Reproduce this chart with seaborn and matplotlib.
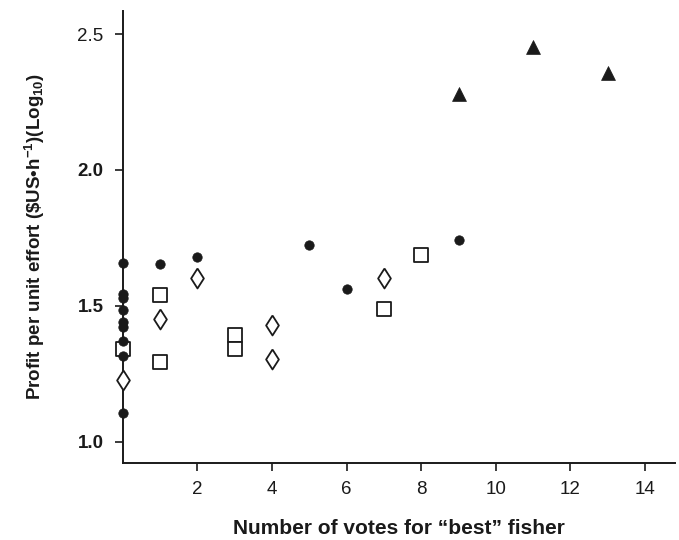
import matplotlib
matplotlib.use("Agg")
import matplotlib.pyplot as plt
import seaborn as sns
import pandas as pd

# ---- data ----
circle_x = [0, 0, 0, 0, 0, 0, 0, 0, 0, 1, 2, 5, 6, 9]
circle_y = [1.657, 1.545, 1.530, 1.485, 1.440, 1.420, 1.371, 1.314, 1.106,
            1.653, 1.679, 1.722, 1.562, 1.743]

square_x = [0, 1, 1, 3, 3, 7, 8]
square_y = [1.342, 1.538, 1.292, 1.391, 1.342, 1.489, 1.688]

diamond_x = [0, 1, 2, 4, 4, 7]
diamond_y = [1.228, 1.452, 1.602, 1.428, 1.304, 1.602]

triangle_x = [9, 11, 13]
triangle_y = [2.280, 2.453, 2.355]

x_ticks = [2, 4, 6, 8, 10, 12, 14]
y_ticks = [1.0, 1.5, 2.0, 2.5]
y_tick_labels = ["1.0", "1.5", "2.0", "2.5"]

sns.set_theme(style="white")
plt.rcParams["font.family"] = ["Liberation Sans", "DejaVu Sans"]
plt.rcParams["mathtext.fontset"] = "custom"
plt.rcParams["mathtext.rm"] = "Liberation Sans"
plt.rcParams["mathtext.bf"] = "Liberation Sans:bold"

fig = plt.figure(figsize=(6.79, 5.40), dpi=100)
ax = fig.add_axes([0.181, 0.1426, 0.813, 0.837])

ink = "#1a1a1a"
lw = 1.3

diamond_marker = [(0, 1), (0.64, 0), (0, -1), (-0.64, 0), (0, 1)]

df_c = pd.DataFrame({"x": circle_x, "y": circle_y})
df_s = pd.DataFrame({"x": square_x, "y": square_y})
df_d = pd.DataFrame({"x": diamond_x, "y": diamond_y})
df_t = pd.DataFrame({"x": triangle_x, "y": triangle_y})

sns.scatterplot(data=df_s, x="x", y="y", marker="s", s=100, facecolor="white",
                edgecolor=ink, linewidth=lw, ax=ax, zorder=3, clip_on=False)
sns.scatterplot(data=df_d, x="x", y="y", marker=diamond_marker, s=205,
                facecolor="white", edgecolor=ink, linewidth=lw, ax=ax,
                zorder=3, clip_on=False)
sns.scatterplot(data=df_c, x="x", y="y", marker="o", s=46, color=ink,
                edgecolor=ink, linewidth=0.5, ax=ax, zorder=4, clip_on=False)
sns.scatterplot(data=df_t, x="x", y="y", marker="^", s=100, color=ink,
                edgecolor=ink, linewidth=0.5, ax=ax, zorder=4, clip_on=False)

ax.set_xlim(0, 14.8)
ax.set_ylim(0.921, 2.585)

ax.set_xticks(x_ticks)
ax.set_xticklabels([str(t) for t in x_ticks])
ax.set_yticks(y_ticks)
ax.set_yticklabels(y_tick_labels)

for spine in ["top", "right"]:
    ax.spines[spine].set_visible(False)
for spine in ["left", "bottom"]:
    ax.spines[spine].set_color(ink)
    ax.spines[spine].set_linewidth(1.4)

ax.tick_params(axis="both", which="major", direction="out", length=6,
               width=1.2, color=ink, labelcolor=ink, labelsize=13.5, pad=8,
               left=True, bottom=True)
ax.tick_params(axis="x", pad=7)

for lab in ax.get_yticklabels():
    if lab.get_text() != "2.5":
        lab.set_fontweight("bold")

ax.set_xlabel("Number of votes for \u201cbest\u201d fisher", fontsize=15,
              fontweight="bold", color=ink, labelpad=15)
ax.set_ylabel("Profit per unit effort (\\$US\u2022h$\\mathbf{^{-1}}$)(Log$\\mathbf{_{10}}$)",
              fontsize=13.5, fontweight="bold", color=ink, labelpad=22)

fig.savefig("out.png", dpi=100)
